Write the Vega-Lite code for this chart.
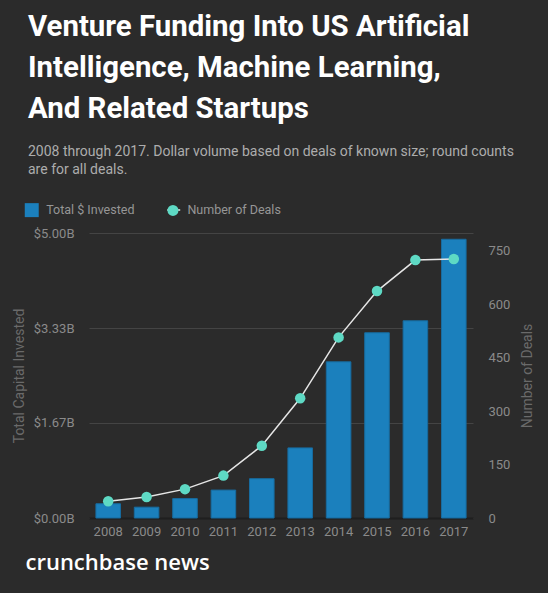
{
  "$schema": "https://vega.github.io/schema/vega-lite/v6.json",
  "width": 384,
  "height": 285,
  "autosize": {"type": "none"},
  "padding": {"left": 89, "top": 233, "right": 75, "bottom": 75},
  "background": "#2b2b2b",
  "config": {"view": {"stroke": null}, "font": "Roboto"},
  "title": {
    "text": ["Venture Funding Into US Artificial", "Intelligence, Machine Learning,", "And Related Startups"],
    "subtitle": ["2008 through 2017. Dollar volume based on deals of known size; round counts", "are for all deals."],
    "anchor": "start",
    "frame": "group",
    "dx": -61,
    "offset": 25,
    "font": "Roboto",
    "fontSize": 29.4,
    "fontWeight": "bold",
    "color": "#ffffff",
    "lineHeight": 41,
    "subtitleFont": "Roboto",
    "subtitleFontSize": 14,
    "subtitleColor": "#adadad",
    "subtitleLineHeight": 18,
    "subtitlePadding": 20
  },
  "data": {
    "values": [
      {"year": "2008", "invested": 0.25, "deals": 47},
      {"year": "2009", "invested": 0.19, "deals": 59},
      {"year": "2010", "invested": 0.34, "deals": 81},
      {"year": "2011", "invested": 0.49, "deals": 119},
      {"year": "2012", "invested": 0.69, "deals": 203},
      {"year": "2013", "invested": 1.23, "deals": 336},
      {"year": "2014", "invested": 2.74, "deals": 507},
      {"year": "2015", "invested": 3.25, "deals": 637},
      {"year": "2016", "invested": 3.46, "deals": 724},
      {"year": "2017", "invested": 4.89, "deals": 727}
    ]
  },
  "encoding": {
    "x": {
      "field": "year",
      "type": "ordinal",
      "scale": {"paddingInner": 0.36, "paddingOuter": 0.18},
      "axis": {
        "title": "crunchbase news",
        "labelAngle": 0,
        "labelColor": "#8a8a8a",
        "labelFont": "Roboto",
        "labelFontSize": 13,
        "labelPadding": 7,
        "ticks": false,
        "domain": true,
        "domainColor": "#1f1f1f",
        "domainWidth": 2,
        "titleFont": "Open Sans",
        "titleFontSize": 22,
        "titleFontWeight": 600,
        "titleColor": "#ffffff",
        "titleAnchor": "start",
        "titleAlign": "left",
        "titleX": -64,
        "titleY": 51,
        "titleBaseline": "alphabetic"
      }
    }
  },
  "layer": [
    {
      "mark": {"type": "bar", "stroke": "#176b9f", "strokeWidth": 1},
      "encoding": {
        "y": {
          "field": "invested",
          "type": "quantitative",
          "scale": {"domain": [0, 5]},
          "axis": {
            "orient": "left",
            "values": [0, 1.6667, 3.3333, 5],
            "labelExpr": "'$' + format(datum.value, '.2f') + 'B'",
            "grid": true,
            "gridColor": "#444444",
            "gridWidth": 1,
            "domain": false,
            "ticks": false,
            "labelPadding": 15,
            "labelColor": "#8a8a8a",
            "labelFont": "Roboto",
            "labelFontSize": 13,
            "title": "Total Capital Invested",
            "titleColor": "#6a6a6a",
            "titleFont": "Roboto",
            "titleFontSize": 14,
            "titleFontWeight": "normal",
            "titlePadding": 7
          }
        },
        "color": {
          "datum": "Total $ Invested",
          "scale": {"domain": ["Total $ Invested", "Number of Deals"], "range": ["#1b80bd", "#5ed9c4"]},
          "legend": {
            "orient": "none",
            "legendX": -63.5,
            "legendY": -29.5,
            "direction": "horizontal",
            "title": null,
            "labelColor": "#969696",
            "labelFont": "Roboto",
            "labelFontSize": 12.5,
            "labelOffset": 8.2,
            "columnPadding": 32.2,
            "padding": 0,
            "symbolSize": 121,
            "symbolStrokeWidth": 0,
            "symbolOpacity": 1,
            "zindex": 1
          }
        }
      }
    },
    {
      "layer": [
        {
          "mark": {"type": "line", "strokeWidth": 1.5},
          "encoding": {
            "y": {
              "field": "deals",
              "type": "quantitative",
              "scale": {"domain": [0, 750]},
              "axis": {
                "orient": "right",
                "values": [0, 150, 300, 450, 600, 750],
                "grid": false,
                "domain": false,
                "ticks": false,
                "labelPadding": 15,
                "labelColor": "#8a8a8a",
                "labelFont": "Roboto",
                "labelFontSize": 13,
                "title": "Number of Deals",
                "titleColor": "#6a6a6a",
                "titleFont": "Roboto",
                "titleFontSize": 14,
                "titleFontWeight": "normal",
                "titleAngle": 270,
                "titlePadding": 25
              }
            },
            "stroke": {
              "datum": "Number of Deals",
              "scale": {"range": ["#e6e6e6"]},
              "legend": {
                "orient": "none",
                "legendX": 77.2,
                "legendY": -30.5,
                "title": null,
                "symbolType": "stroke",
                "symbolSize": 169,
                "symbolStrokeWidth": 1.5,
                "labelExpr": "''",
                "labelFontSize": 12.5,
                "padding": 0,
                "zindex": 0
              }
            }
          }
        },
        {
          "mark": {"type": "point", "filled": true, "size": 110, "opacity": 1},
          "encoding": {
            "y": {"field": "deals", "type": "quantitative"},
            "color": {"datum": "Number of Deals"},
            "shape": {
              "datum": "Number of Deals",
              "scale": {"domain": ["Total $ Invested", "Number of Deals"], "range": ["M-1.27,-1.27H1.27V1.27H-1.27Z", "circle"]},
              "legend": {
                "orient": "none",
                "legendX": -63.5,
                "legendY": -29.5,
                "direction": "horizontal",
                "title": null,
                "labelColor": "#969696",
                "labelFont": "Roboto",
                "labelFontSize": 12.5,
                "labelOffset": 8.2,
                "columnPadding": 32.2,
                "padding": 0,
                "symbolSize": 121,
                "symbolStrokeWidth": 0,
                "symbolOpacity": 1,
                "zindex": 1
              }
            }
          }
        }
      ]
    }
  ],
  "resolve": {"scale": {"y": "independent"}}
}
